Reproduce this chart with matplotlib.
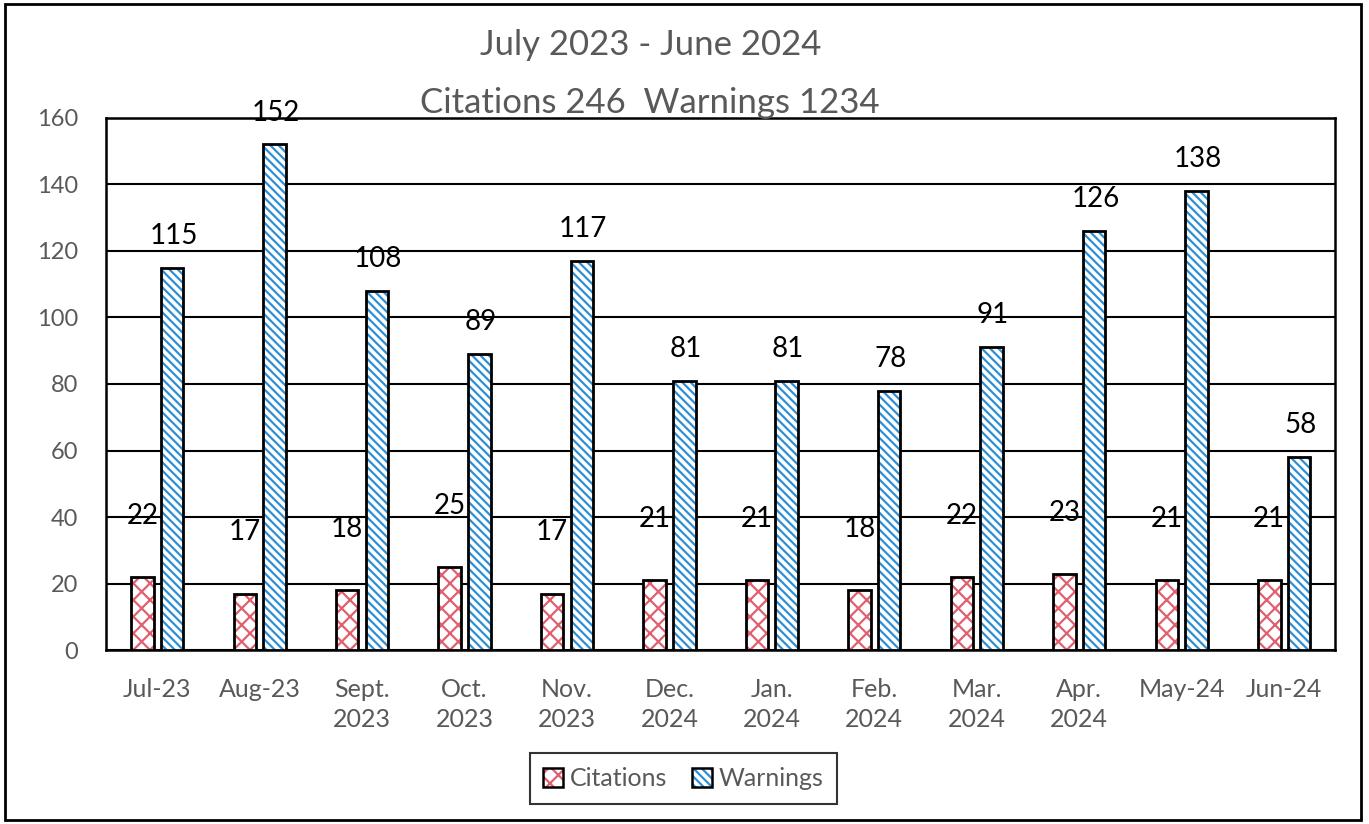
import numpy as np
import matplotlib
matplotlib.use('Agg')
import matplotlib.pyplot as plt
from matplotlib.patches import Rectangle

months = ['Jul-23', 'Aug-23', 'Sept.\n2023', 'Oct.\n2023', 'Nov.\n2023', 'Dec.\n2024',
          'Jan.\n2024', 'Feb.\n2024', 'Mar.\n2024', 'Apr.\n2024', 'May-24', 'Jun-24']
citations = [22, 17, 18, 25, 17, 21, 21, 18, 22, 23, 21, 21]
warnings = [115, 152, 108, 89, 117, 81, 81, 78, 91, 126, 138, 58]

plt.rcParams['font.family'] = ['Lato', 'DejaVu Sans']
plt.rcParams['hatch.linewidth'] = 1.6

gray = '#595959'
red = '#E06070'
blue = '#2E8FD6'

fig = plt.figure(figsize=(13.69, 8.24), dpi=100)
ax = fig.add_axes([0.0774, 0.211, 0.898, 0.646])

x = np.arange(len(months))
w = 0.22
off = 0.145

# hatch layers
ax.bar(x - off, citations, w, color='white', edgecolor=red, hatch='xx', linewidth=0, zorder=3)
ax.bar(x + off, warnings, w, color='white', edgecolor=blue, hatch='\\\\\\\\', linewidth=0, zorder=3)
# outlines
ax.bar(x - off, citations, w, fill=False, edgecolor='black', linewidth=2, zorder=4)
ax.bar(x + off, warnings, w, fill=False, edgecolor='black', linewidth=2, zorder=4)

for xi, v in zip(x, citations):
    ax.annotate(str(v), (xi - off, v), xytext=(0, 44), textcoords='offset points',
                ha='center', va='center', fontsize=20, color='black', zorder=5)
for xi, v in zip(x, warnings):
    ax.annotate(str(v), (xi + off, v), xytext=(1, 23), textcoords='offset points',
                ha='center', va='center', fontsize=20, color='black', zorder=5)

ax.set_xlim(-0.5, len(months) - 0.5)
ax.set_ylim(0, 160)
ax.set_yticks(range(0, 161, 20))
ax.set_xticks(x)
ax.set_xticklabels(months, fontsize=18, color=gray, linespacing=1.35, va='top')
ax.tick_params(axis='y', labelsize=17, labelcolor=gray, length=0, pad=20)
ax.tick_params(axis='x', length=0, pad=20)
ax.yaxis.grid(True, color='black', linewidth=1.5, zorder=0)
ax.set_axisbelow(True)
for s in ax.spines.values():
    s.set_linewidth(1.8)
    s.set_color('black')

fig.text(0.475, 0.945, 'July 2023 - June 2024', ha='center', va='center', fontsize=25, color=gray)
fig.text(0.475, 0.875, 'Citations 246  Warnings 1234', ha='center', va='center', fontsize=25, color=gray)

# legend
h1 = Rectangle((0, 0), 1, 1, facecolor='white', edgecolor=red, hatch='xx', linewidth=0)
h2 = Rectangle((0, 0), 1, 1, facecolor='white', edgecolor=blue, hatch='\\\\\\\\', linewidth=0)
o1 = Rectangle((0, 0), 1, 1, fill=False, edgecolor='black', linewidth=1.8)
o2 = Rectangle((0, 0), 1, 1, fill=False, edgecolor='black', linewidth=1.8)
leg = fig.legend([(h1, o1), (h2, o2)], ['Citations', 'Warnings'], loc='center',
                 bbox_to_anchor=(0.499, 0.055), ncol=2, fontsize=18, frameon=True,
                 fancybox=False, edgecolor='black', handlelength=0.8, handleheight=0.8,
                 handletextpad=0.25, columnspacing=1.0, borderpad=0.55)
for t in leg.get_texts():
    t.set_color(gray)
leg.get_frame().set_linewidth(1.5)

fig.patches.append(Rectangle((0.004, 0.005), 0.99, 0.99, transform=fig.transFigure,
                             fill=False, edgecolor='black', linewidth=2))

fig.savefig('out.png', dpi=100)
